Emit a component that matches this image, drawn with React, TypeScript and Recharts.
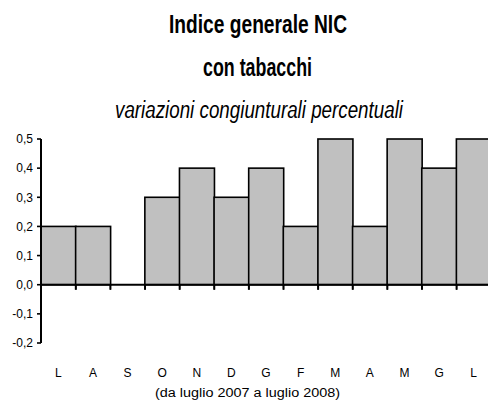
import React from 'react';
import { BarChart, Bar, XAxis, YAxis, ReferenceLine } from 'recharts';

const months = ['L', 'A', 'S', 'O', 'N', 'D', 'G', 'F', 'M', 'A', 'M', 'G', 'L'];
const values = [0.2, 0.2, 0.0, 0.3, 0.4, 0.3, 0.4, 0.2, 0.5, 0.2, 0.5, 0.4, 0.5];
const yTicks = [-0.2, -0.1, 0, 0.1, 0.2, 0.3, 0.4, 0.5];

const data = months.map((m, i) => ({ id: String(i), month: m, value: values[i] }));

const fmt = (v: number) => v.toFixed(1).replace('.', ',');

const BarShape = (props: any) => {
  const { x, y, width, height } = props;
  const base = y + height;
  return (
    <g>
      <rect x={x} y={y} width={width} height={height} fill="#c0c0c0" stroke="#000" strokeWidth={1.6} />
      <line x1={x} x2={x} y1={base} y2={base + 5} stroke="#000" strokeWidth={1.6} />
      <line x1={x + width} x2={x + width} y1={base} y2={base + 5} stroke="#000" strokeWidth={1.6} />
    </g>
  );
};

const font = '"Liberation Sans", Arial, sans-serif';
const narrow = '"Liberation Sans Narrow", "Liberation Sans", Arial, sans-serif';

export default function App() {
  return (
    <div style={{ position: 'fixed', left: 0, top: 0, width: 488, height: 403, overflow: 'hidden', background: '#fff' }}>
      <BarChart
        width={491}
        height={403}
        data={data}
        margin={{ top: 139, right: 0, left: 8, bottom: 26 }}
        barCategoryGap={0}
        barGap={0}
      >
        <XAxis
          dataKey="id"
          height={34}
          axisLine={false}
          tickLine={false}
          tickSize={0}
          tickMargin={25}
          interval={0}
          tickFormatter={(v: string) => months[Number(v)]}
          tick={{ fill: '#000', fontSize: 12, fontFamily: font }}
        />
        <YAxis
          width={33}
          domain={[-0.2, 0.5]}
          ticks={yTicks}
          interval={0}
          tickFormatter={fmt}
          axisLine={{ stroke: '#000', strokeWidth: 2 }}
          tickLine={{ stroke: '#000', strokeWidth: 1.6 }}
          tickSize={4}
          tickMargin={4}
          tick={{ fill: '#000', fontSize: 12, fontFamily: font }}
        />
        <Bar dataKey="value" isAnimationActive={false} shape={BarShape} />
        <ReferenceLine y={0} stroke="#000" strokeWidth={2} />
      </BarChart>
      <svg width={488} height={403} style={{ position: 'absolute', left: 0, top: 0, pointerEvents: 'none' }}>
        <text x={258} y={33} textAnchor="middle" fontFamily={narrow} fontWeight="bold" fontSize={26} textLength={178} lengthAdjust="spacingAndGlyphs" fill="#000">
          Indice generale NIC
        </text>
        <text x={257.5} y={76} textAnchor="middle" fontFamily={narrow} fontWeight="bold" fontSize={26} textLength={109} lengthAdjust="spacingAndGlyphs" fill="#000">
          con tabacchi
        </text>
        <text x={259} y={118} textAnchor="middle" fontFamily={narrow} fontStyle="italic" fontSize={23} textLength={288} lengthAdjust="spacingAndGlyphs" fill="#000">
          variazioni congiunturali percentuali
        </text>
        <text x={247.5} y={397} textAnchor="middle" fontFamily={font} fontSize={12} textLength={185} lengthAdjust="spacingAndGlyphs" fill="#000">
          (da luglio 2007 a luglio 2008)
        </text>
      </svg>
    </div>
  );
}
